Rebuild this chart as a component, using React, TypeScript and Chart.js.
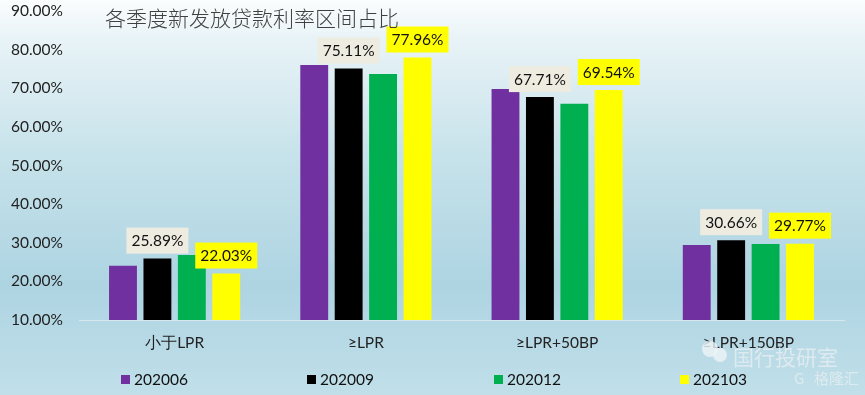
import React, { useEffect, useRef } from "react";
import { Chart, registerables } from "chart.js";

Chart.register(...registerables);

const categories = ["小于LPR", "≥LPR", "≥LPR+50BP", "≥LPR+150BP"];
const periods = ["202006", "202009", "202012", "202103"];
const s202006 = [24.07, 76.0, 69.8, 29.4];
const s202009 = [25.89, 75.11, 67.71, 30.66];
const s202012 = [26.8, 73.7, 66.0, 29.7];
const s202103 = [22.03, 77.96, 69.54, 29.77];
const colors = ["#7030A0", "#000000", "#00B050", "#FFFF00"];
const chartTitle = "各季度新发放贷款利率区间占比";
const labelled = [1, 3];
const labelFills = ["", "#EEECE1", "", "#FFFF00"];
const legendLeft = [121, 307, 494, 680];

const TICK_FONT = "Lato";

const backdrop = {
  id: "backdrop",
  beforeDraw(chart: any) {
    const { ctx, width, height } = chart;
    const g = ctx.createLinearGradient(0, 0, 0, height);
    g.addColorStop(0, "#FBFDFE");
    g.addColorStop(0.1, "#E8F3F7");
    g.addColorStop(0.4, "#C6E2EA");
    g.addColorStop(0.72, "#AED4E2");
    g.addColorStop(1, "#C0DFE9");
    ctx.save();
    ctx.fillStyle = g;
    ctx.fillRect(0, 0, width, height);
    ctx.restore();
  },
};

const annotations = {
  id: "annotations",
  afterDatasetsDraw(chart: any) {
    const { ctx } = chart;
    ctx.save();
    ctx.textAlign = "center";
    ctx.textBaseline = "middle";
    ctx.font = `15.5px ${TICK_FONT}`;
    labelled.forEach((di) => {
      const meta = chart.getDatasetMeta(di);
      meta.data.forEach((bar: any, i: number) => {
        const w = 62;
        const h = 26;
        const x = bar.x - w / 2;
        const y = bar.y - 5 - h;
        ctx.fillStyle = labelFills[di];
        ctx.fillRect(x, y, w, h);
        ctx.fillStyle = "#111111";
        const v = chart.data.datasets[di].data[i];
        ctx.fillText(v.toFixed(2) + "%", bar.x, y + h / 2 + 0.5);
      });
    });

    ctx.fillStyle = "#404040";
    ctx.font = '300 21px "Noto Sans CJK SC"';
    ctx.textAlign = "left";
    ctx.fillText(chartTitle, 105, 18);

    ctx.font = `15.5px ${TICK_FONT}`;
    chart.data.datasets.forEach((ds: any, i: number) => {
      ctx.fillStyle = ds.backgroundColor;
      ctx.fillRect(legendLeft[i], 375, 9, 9);
      ctx.fillStyle = "#111111";
      ctx.fillText(ds.label, legendLeft[i] + 13, 380);
    });

    ctx.globalAlpha = 0.8;
    ctx.fillStyle = "#EEF4F6";
    ctx.beginPath();
    ctx.arc(710, 349, 8, 0, Math.PI * 2);
    ctx.fill();
    ctx.beginPath();
    ctx.arc(720, 355, 7, 0, Math.PI * 2);
    ctx.fill();
    ctx.font = '400 21px "Noto Sans CJK SC"';
    ctx.fillStyle = "#E6EEF1";
    ctx.fillText("国行投研室", 733, 357);
    ctx.font = '400 15px "Noto Sans CJK SC"';
    ctx.fillText("G", 794, 378);
    ctx.fillText("格隆汇", 814, 378);
    ctx.restore();
  },
};

export default function App() {
  const ref = useRef<HTMLCanvasElement>(null);
  useEffect(() => {
    const series = [s202006, s202009, s202012, s202103];
    const chart = new Chart(ref.current!, {
      type: "bar",
      data: {
        labels: categories,
        datasets: periods.map((p, i) => ({
          label: p,
          data: series[i],
          backgroundColor: colors[i],
          barPercentage: 0.81,
          categoryPercentage: 0.72,
        })),
      },
      plugins: [backdrop, annotations],
      options: {
        animation: false,
        responsive: false,
        layout: { padding: { top: 11, right: 21, bottom: 0, left: 0 } },
        scales: {
          x: {
            grid: { display: false, drawTicks: false },
            border: { color: "#D6E8EE", width: 1 },
            afterFit: (s: any) => {
              s.height = 75;
            },
            ticks: { color: "#222222", font: { family: TICK_FONT, size: 15.5 }, padding: 14 },
          },
          y: {
            min: 10,
            max: 90,
            grid: { display: false, drawTicks: false },
            border: { display: false },
            afterFit: (s: any) => {
              s.width = 79;
              s.paddingTop = 0;
              s.paddingBottom = 0;
            },
            ticks: {
              stepSize: 10,
              color: "#222222",
              padding: 16,
              font: { family: TICK_FONT, size: 15.5 },
              callback: (v: any) => Number(v).toFixed(2) + "%",
            },
          },
        },
        plugins: {
          title: { display: false },
          tooltip: { enabled: false },
          legend: { display: false },
        },
      },
    });
    return () => chart.destroy();
  }, []);
  return (
    <div style={{ position: "fixed", left: 0, top: 0 }}>
      <canvas ref={ref} width={865} height={395} style={{ display: "block" }} />
    </div>
  );
}
